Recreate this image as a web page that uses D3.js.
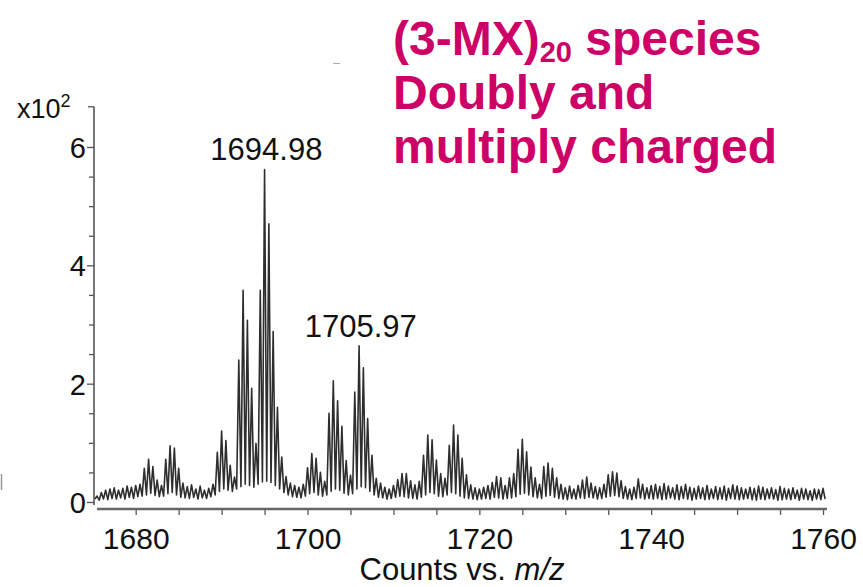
<!DOCTYPE html>
<html>
<head>
<meta charset="utf-8">
<script src="https://cdn.jsdelivr.net/npm/d3@7"></script>
<style>
  html, body { margin: 0; padding: 0; background: #ffffff; }
  svg { display: block; }
  text { font-family: "Liberation Sans", Arial, sans-serif; }
</style>
</head>
<body>
<svg id="chart" width="863" height="587"></svg>
<script>
// ---------------- data ----------------
// isotope-peak sampling grid: first peak m/z and spacing (doubly charged -> 0.5)
const peakStart = 1675.5;
const peakStep = 0.5;
// peak tops, counts x10^2, one per 0.5 m/z from 1675.5 to 1760.0
const peakTops = [
  0.10,0.16,0.20,0.22,0.24,0.20,0.23,0.27,0.25,0.28, // 1675.5-1680.0
  0.30,0.57,0.72,0.60,0.37,0.28,0.72,0.95,0.91,0.57, // 1680.5-1685.0
  0.32,0.26,0.29,0.22,0.27,0.20,0.23,0.30,0.84,1.20, // 1685.5-1690.0
  1.04,0.62,0.42,2.40,3.58,3.07,1.92,0.99,3.58,5.62, // 1690.5-1695.0
  4.70,2.88,1.60,0.76,0.43,0.32,0.28,0.25,0.30,0.58, // 1695.5-1700.0
  0.82,0.74,0.50,0.35,1.50,2.05,1.71,1.28,0.70,0.45, // 1700.5-1705.0
  1.86,2.64,2.27,1.41,0.79,0.40,0.32,0.25,0.22,0.28, // 1705.5-1710.0
  0.38,0.48,0.48,0.36,0.29,0.35,0.79,1.13,1.05,0.71, // 1710.5-1715.0
  0.48,0.40,0.96,1.30,1.13,0.74,0.46,0.29,0.24,0.22, // 1715.5-1720.0
  0.25,0.28,0.33,0.43,0.41,0.28,0.41,0.48,0.89,1.06, // 1720.5-1725.0
  0.85,0.59,0.41,0.30,0.60,0.66,0.57,0.41,0.30,0.24, // 1725.5-1730.0
  0.27,0.22,0.28,0.37,0.42,0.32,0.26,0.24,0.30,0.46, // 1730.5-1735.0
  0.51,0.49,0.36,0.26,0.22,0.25,0.39,0.30,0.24,0.28, // 1735.5-1740.0
  0.30,0.26,0.31,0.27,0.24,0.29,0.26,0.30,0.25,0.23, // 1740.5-1745.0
  0.27,0.24,0.28,0.22,0.26,0.24,0.27,0.23,0.29,0.27, // 1745.5-1750.0
  0.24,0.22,0.25,0.23,0.27,0.25,0.22,0.24,0.21,0.26, // 1750.5-1755.0
  0.23,0.22,0.24,0.20,0.23,0.22,0.19,0.22,0.21,0.23  // 1755.5-1760.0
];
// trough level following each peak (x10^2)
const troughStart = 0.05;
const peakTroughs = [
  0.03,0.05,0.04,0.06,0.05,0.07,0.05,0.08,0.06,0.09,
  0.10,0.12,0.15,0.11,0.09,0.10,0.14,0.16,0.12,0.08,
  0.07,0.06,0.08,0.05,0.07,0.06,0.09,0.12,0.18,0.22,
  0.20,0.18,0.22,0.26,0.30,0.28,0.25,0.30,0.34,0.35,
  0.33,0.28,0.22,0.16,0.12,0.09,0.08,0.07,0.10,0.14,
  0.16,0.12,0.10,0.12,0.18,0.22,0.20,0.15,0.12,0.14,
  0.22,0.26,0.24,0.18,0.12,0.08,0.07,0.05,0.06,0.08,
  0.10,0.09,0.07,0.06,0.05,0.08,0.12,0.16,0.14,0.10,
  0.09,0.12,0.16,0.14,0.10,0.07,0.06,0.05,0.04,0.05,
  0.06,0.05,0.08,0.07,0.05,0.06,0.07,0.09,0.13,0.15,
  0.12,0.09,0.07,0.06,0.10,0.11,0.08,0.06,0.05,0.04,
  0.06,0.05,0.07,0.06,0.08,0.07,0.05,0.06,0.08,0.10,
  0.11,0.09,0.06,0.05,0.04,0.06,0.07,0.05,0.06,0.05,
  0.06,0.04,0.05,0.07,0.05,0.04,0.06,0.05,0.03,0.05,
  0.06,0.04,0.05,0.06,0.04,0.05,0.03,0.06,0.05,0.04,
  0.05,0.06,0.04,0.03,0.05,0.04,0.06,0.05,0.03,0.04,
  0.05,0.04,0.06,0.03,0.05,0.04,0.03,0.05,0.04,0.05
];
// annotated peaks
const labelMz = [1694.98, 1705.97];
const labelVal = [5.62, 2.64];
const labelText = ["1694.98", "1705.97"];
// axes
const xTickValues = [1680,1685,1690,1695,1700,1705,1710,1715,1720,1725,1730,1735,1740,1745,1750,1755,1760];
const xTickLabels = [1680, 1700, 1720, 1740, 1760];
const yTickValues = [0,0.5,1,1.5,2,2.5,3,3.5,4,4.5,5,5.5,6];
const yTickLabels = [0, 2, 4, 6];
const xTitle = "Counts vs. ";
const xTitleItalic = "m/z";
const titleLines = ["Doubly and", "multiply charged"];

// ---------------- drawing ----------------
const svg = d3.select("#chart");
const x = d3.scaleLinear().domain([1680, 1760]).range([135.7, 823]);
const y = d3.scaleLinear().domain([0, 6]).range([502, 147]);

// build spectrum points: trough - top - trough ...
const pts = [[peakStart - peakStep / 2, troughStart]];
peakTops.forEach((v, i) => {
  const mz = peakStart + i * peakStep;
  pts.push([mz, v]);
  pts.push([mz + peakStep / 2, peakTroughs[i]]);
});
const line = d3.line().x(d => x(d[0])).y(d => y(d[1]));
svg.append("path")
  .attr("d", line(pts))
  .attr("fill", "none")
  .attr("stroke", "#2e2e2e")
  .attr("stroke-width", 1.6)
  .attr("stroke-linejoin", "round");

// y axis
const yAxis = d3.axisLeft(y)
  .tickValues(yTickValues)
  .tickSizeOuter(0)
  .tickFormat(d => yTickLabels.includes(d) ? d : "");
const gy = svg.append("g").attr("transform", "translate(94,0)").call(yAxis);
gy.select(".domain").remove();
gy.selectAll(".tick line")
  .attr("x2", d => yTickLabels.includes(d) ? -7 : -5)
  .attr("stroke", "#555").attr("stroke-width", 1.3);
gy.selectAll(".tick text")
  .attr("x", -8).attr("dy", "0.36em")
  .attr("font-size", 29).attr("fill", "#111")
  .attr("font-family", "Liberation Sans, Arial, sans-serif");
gy.append("line").attr("x1", 0).attr("x2", 0)
  .attr("y1", y(6.68)).attr("y2", y(-0.05))
  .attr("stroke", "#555").attr("stroke-width", 1.6);
gy.append("line").attr("x1", -6).attr("x2", 0)
  .attr("y1", y(6.68)).attr("y2", y(6.68))
  .attr("stroke", "#555").attr("stroke-width", 1.3);

// multiplier label
const mult = svg.append("text").attr("x", 17).attr("y", 118)
  .attr("font-size", 27).attr("fill", "#111");
mult.append("tspan").text("x10");
mult.append("tspan").attr("font-size", 18).attr("dy", -11).text("2");

// x axis
const xAxis = d3.axisBottom(x)
  .tickValues(xTickValues)
  .tickSizeOuter(0)
  .tickSize(6)
  .tickFormat(d => xTickLabels.includes(d) ? d : "");
const gx = svg.append("g").attr("transform", "translate(0,509)").call(xAxis);
gx.select(".domain").remove();
gx.selectAll(".tick line").attr("stroke", "#555").attr("stroke-width", 1.3);
gx.selectAll(".tick text")
  .attr("y", 40).attr("dy", 0)
  .attr("font-size", 30).attr("fill", "#111")
  .attr("font-family", "Liberation Sans, Arial, sans-serif");
gx.append("line").attr("x1", 97).attr("x2", 827).attr("y1", 0).attr("y2", 0)
  .attr("stroke", "#666").attr("stroke-width", 2.6);

const xt = svg.append("text").attr("x", 462).attr("y", 580)
  .attr("text-anchor", "middle").attr("font-size", 31).attr("fill", "#111");
xt.append("tspan").text(xTitle);
xt.append("tspan").attr("font-style", "italic").text(xTitleItalic);

// peak labels
labelText.forEach((t, i) => {
  svg.append("text")
    .attr("x", x(labelMz[i]) + 2)
    .attr("y", y(labelVal[i]) - 9)
    .attr("text-anchor", "middle")
    .attr("font-size", 31).attr("fill", "#111")
    .text(t);
});

// magenta annotation
const magenta = "#cc0066";
const t1 = svg.append("text").attr("x", 393).attr("y", 55)
  .attr("font-size", 48).attr("font-weight", "bold").attr("fill", magenta);
t1.append("tspan").text("(3-MX)");
t1.append("tspan").attr("font-size", 29).attr("dy", 7).text("20");
t1.append("tspan").attr("dy", -7).text(" species");
titleLines.forEach((t, i) => {
  svg.append("text").attr("x", 393).attr("y", 109 + i * 54)
    .attr("font-size", 48).attr("font-weight", "bold").attr("fill", magenta)
    .text(t);
});

// small stray marks present in the reference
svg.append("line").attr("x1", 333).attr("x2", 340).attr("y1", 63.5).attr("y2", 63.5)
  .attr("stroke", "#aaa").attr("stroke-width", 1);
svg.append("line").attr("x1", 1.5).attr("x2", 1.5).attr("y1", 474).attr("y2", 490)
  .attr("stroke", "#999").attr("stroke-width", 1.5);
</script>
</body>
</html>
